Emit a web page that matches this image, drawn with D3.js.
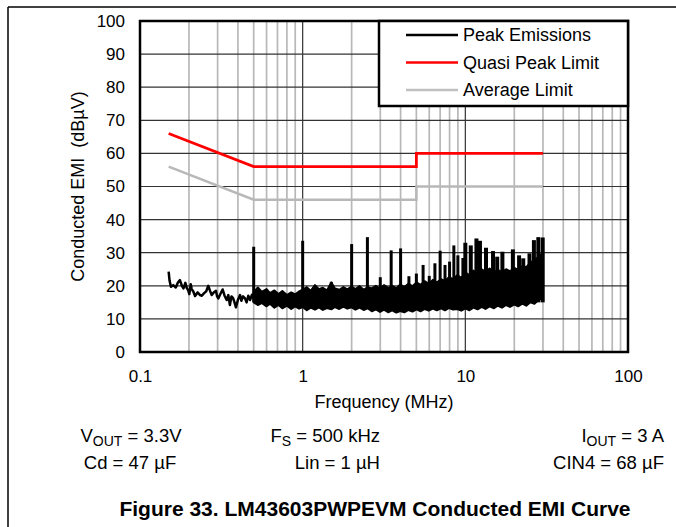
<!DOCTYPE html>
<html>
<head>
<meta charset="utf-8">
<script src="https://cdn.jsdelivr.net/npm/d3@7"></script>
<style>
    body { margin: 0; background: #fff; }
    svg { display: block; font-family: "Liberation Sans", Arial, Helvetica, sans-serif; }
</style>
</head>
<body>
<svg id="chart-emi" width="676" height="527"></svg>
<script>
// CONDUCTED EMI — log frequency plot
(function() {
    const FREQ_TICKS = [0.1, 1, 10, 100];
    const EMI_TICKS  = [0, 10, 20, 30, 40, 50, 60, 70, 80, 90, 100];

    // CISPR limits (MHz, dBuV)
    const qpFreq   = [0.15, 0.5, 5, 5, 30];
    const qpLimit  = [66, 56, 56, 60, 60];
    const avgFreq  = [0.15, 0.5, 5, 5, 30];
    const avgLimit = [56, 46, 46, 50, 50];

    // peak scan below the switching frequency, a single trace
    const lowFreq = [0.150,0.152,0.155,0.160,0.166,0.171,0.176,0.181,0.185,0.190,0.194,0.198,0.201,0.205,0.208,0.213,
                     0.218,0.226,0.234,0.240,0.247,0.255,0.263,0.270,0.276,0.284,0.293,0.298,0.303,0.312,0.322,0.331,
                     0.341,0.349,0.357,0.365,0.374,0.381,0.389,0.400,0.412,0.420,0.430,0.442,0.452,0.463,0.475,0.488,0.497];
    const lowEmi  = [24.3,21.5,19.7,20.2,19.5,21.0,21.7,20.0,19.2,20.9,19.3,18.6,17.5,20.5,19.0,18.2,
                     16.9,18.0,17.2,17.0,17.7,18.3,20.0,18.4,17.2,18.0,18.5,16.8,16.2,17.5,18.9,17.0,
                     15.7,17.2,14.2,16.8,16.2,15.0,13.5,15.8,17.2,15.5,16.8,16.2,15.0,17.0,15.7,17.3,16.2];

    // dense part of the scan, 0.5 - 30 MHz: lower / upper edge of the trace
    const bandFreq = [0.50,0.53,0.56,0.60,0.63,0.67,0.71,0.75,0.80,0.85,0.90,0.95,1.00,1.06,1.12,1.19,1.26,1.33,
                      1.41,1.50,1.58,1.68,1.78,1.88,2.00,2.11,2.24,2.37,2.51,2.66,2.82,2.99,3.16,3.35,3.55,3.76,
                      3.98,4.22,4.47,4.73,5.01,5.31,5.62,5.96,6.31,6.68,7.08,7.50,7.94,8.41,8.91,9.44,10.0,10.6,
                      11.2,11.9,12.6,13.3,14.1,15.0,15.8,16.8,17.8,18.8,20.0,21.1,22.4,23.7,25.1,26.6,28.2,30.0];
    const bandLow  = [15.0,14.2,14.8,13.8,14.6,13.4,14.2,13.2,14.0,13.0,13.8,13.1,13.6,12.6,13.4,12.8,13.5,12.7,
                      13.3,12.9,13.6,13.0,13.7,13.1,13.5,12.8,13.4,12.7,13.2,12.3,12.9,12.1,12.8,12.0,12.6,11.9,
                      12.4,12.0,12.7,12.2,12.9,12.3,13.0,12.5,13.1,12.6,13.2,12.6,13.3,12.8,13.0,12.5,13.2,12.6,
                      13.4,12.9,13.6,13.0,13.8,13.2,14.0,13.4,14.2,13.6,14.4,13.8,14.6,14.0,15.0,14.6,15.8,16.3];
    const bandHigh = [18.0,19.5,18.2,19.0,17.8,18.6,17.5,18.4,17.2,18.0,17.4,18.3,18.8,19.6,18.5,20.2,19.0,19.4,
                      18.6,21.0,19.2,18.8,19.6,18.9,19.8,19.0,19.9,18.8,19.6,19.2,20.0,19.1,20.2,19.4,20.0,19.3,
                      20.4,19.6,20.6,19.9,21.0,20.3,21.4,20.6,21.8,21.0,22.0,21.5,22.6,22.0,23.2,22.4,24.0,23.2,
                      24.6,23.8,25.0,24.2,25.2,24.0,24.8,24.2,25.0,24.4,25.4,24.8,26.0,25.6,27.0,27.8,28.8,30.0];

    // switching harmonics
    const spikeFreq = [0.5,1.0,1.5,2.0,2.5,3.0,3.5,4.0,4.5,5.0,5.5,6.0,6.5,7.0,7.5,8.0,8.5,9.0,9.66,10.0,
                       10.8,11.7,12.3,13.4,14.8,15.7,16.9,19.6,21.4,22.7,24.8,26.4,28.1,29.9];
    const spikePeak = [31.8,33.6,21.2,32.6,34.7,22.6,30.7,31.3,22.9,23.7,26.3,23.0,26.8,30.6,26.3,27.3,32.2,29.2,28.4,33.0,
                       32.2,34.3,33.6,31.5,30.5,28.8,30.3,31.0,29.2,28.3,29.8,33.8,34.7,34.6];

    const SERIES        = ["Peak Emissions", "Quasi Peak Limit", "Average Limit"];
    const SERIES_COLORS = ["#000000", "#ff0000", "#b8b8b8"];

    const margin = { top: 21, left: 140 };
    const W = 488, H = 331;

    const root = d3.select("#chart-emi");

    // page frame
    root.append("line").attr("x1", 8).attr("x2", 676).attr("y1", 7).attr("y2", 7)
        .attr("stroke", "#000").attr("stroke-width", 1.5);
    root.append("line").attr("x1", 8).attr("x2", 8).attr("y1", 7).attr("y2", 527)
        .attr("stroke", "#000").attr("stroke-width", 1.5);

    const svg = root.append("g").attr("transform", `translate(${margin.left},${margin.top})`);

    const x = d3.scaleLog().domain([0.1, 100]).range([0, W]);
    const y = d3.scaleLinear().domain([0, 100]).range([H, 0]);

    const isDecade = f => Math.abs(Math.log10(f) - Math.round(Math.log10(f))) < 1e-6;
    const minor = x.ticks().filter(f => !isDecade(f));

    svg.append("g").selectAll("line").data(minor).enter().append("line")
        .attr("x1", d => x(d)).attr("x2", d => x(d)).attr("y1", 0).attr("y2", H)
        .attr("stroke", "#b8b8b8").attr("stroke-width", 1.7);
    svg.append("g").selectAll("line").data(EMI_TICKS.slice(1, -1)).enter().append("line")
        .attr("x1", 0).attr("x2", W).attr("y1", d => y(d)).attr("y2", d => y(d))
        .attr("stroke", "#333").attr("stroke-width", 1.2);
    svg.append("g").selectAll("line").data(FREQ_TICKS.slice(1, -1)).enter().append("line")
        .attr("x1", d => x(d)).attr("x2", d => x(d)).attr("y1", 0).attr("y2", H)
        .attr("stroke", "#333").attr("stroke-width", 1.2);

    const line = d3.line().x(d => x(d[0])).y(d => y(d[1]));

    svg.append("path").datum(d3.zip(avgFreq, avgLimit)).attr("d", line)
        .attr("fill", "none").attr("stroke", SERIES_COLORS[2]).attr("stroke-width", 2.5);
    svg.append("path").datum(d3.zip(qpFreq, qpLimit)).attr("d", line)
        .attr("fill", "none").attr("stroke", SERIES_COLORS[1]).attr("stroke-width", 2.8);

    // peak emissions
    svg.append("path").datum(d3.zip(lowFreq, lowEmi)).attr("d", line)
        .attr("fill", "none").attr("stroke", "#000").attr("stroke-width", 2.5).attr("stroke-linejoin", "round");
    const band = d3.area().x(d => x(d[0])).y0(d => y(d[1])).y1(d => y(d[2]));
    svg.append("path").datum(d3.zip(bandFreq, bandLow, bandHigh)).attr("d", band)
        .attr("fill", "#000").attr("stroke", "#000").attr("stroke-width", 2).attr("stroke-linejoin", "round");
    svg.append("g").selectAll("line").data(d3.zip(spikeFreq, spikePeak)).enter().append("line")
        .attr("x1", d => x(d[0])).attr("x2", d => x(d[0]))
        .attr("y1", y(15)).attr("y2", d => y(d[1]))
        .attr("stroke", "#000").attr("stroke-width", d => d[0] >= 10 ? 4 : 3);

    // plot frame
    svg.append("rect").attr("width", W).attr("height", H)
        .attr("fill", "none").attr("stroke", "#000").attr("stroke-width", 2.5);

    // axes
    const yAxis = svg.append("g").call(d3.axisLeft(y).tickValues(EMI_TICKS).tickSize(0).tickPadding(15));
    const xAxis = svg.append("g").attr("transform", `translate(0,${H})`)
        .call(d3.axisBottom(x).tickValues(FREQ_TICKS).tickSize(0).tickPadding(18).tickFormat(d => String(d)));
    [yAxis, xAxis].forEach(a => {
        a.select(".domain").remove();
        a.selectAll("text").style("font-size", "17px").style("fill", "#000")
            .style("font-family", "\"Liberation Sans\", Arial, sans-serif");
    });

    svg.append("text").attr("transform", `translate(${84 - margin.left},${H / 2}) rotate(-90)`)
        .attr("text-anchor", "middle").style("font-size", "18px").style("white-space", "pre")
        .text("Conducted EMI  (dBµV)");
    svg.append("text").attr("x", W / 2).attr("y", 408 - margin.top)
        .attr("text-anchor", "middle").style("font-size", "18px").text("Frequency (MHz)");

    // legend
    const lg = svg.append("g").attr("transform", `translate(${379 - margin.left},0)`);
    lg.append("rect").attr("width", W - (379 - margin.left)).attr("height", 85)
        .attr("fill", "#fff").attr("stroke", "#000").attr("stroke-width", 2.5);
    SERIES.forEach((name, i) => {
        const ly = 14 + i * 27.5;
        lg.append("line").attr("x1", 27).attr("x2", 79).attr("y1", ly).attr("y2", ly)
            .attr("stroke", i === 2 ? "#c0c0c0" : SERIES_COLORS[i]).attr("stroke-width", 2.5);
        lg.append("text").attr("x", 84).attr("y", ly).attr("dy", "0.36em")
            .style("font-size", "18px").text(name);
    });

    // test conditions: [text, isSubscript]
    const cond = root.append("g").style("font-size", "18.5px");
    const addCond = (tx, ty, anchor, parts) => {
        const t = cond.append("text").attr("x", tx).attr("y", ty).attr("text-anchor", anchor);
        let shifted = 0;
        parts.forEach(([s, sub]) => {
            const want = sub ? 4 : 0;
            t.append("tspan").attr("dy", want - shifted).style("font-size", sub ? "14px" : null).text(s);
            shifted = want;
        });
    };
    addCond(131, 442, "middle", [["V"], ["OUT", true], [" = 3.3V"]]);
    addCond(380, 442, "end",    [["F"], ["S", true], [" = 500 kHz"]]);
    addCond(664, 442, "end",    [["I"], ["OUT", true], [" = 3 A"]]);
    addCond(130, 469, "middle", [["Cd = 47 µF"]]);
    addCond(380, 469, "end",    [["Lin = 1 µH"]]);
    addCond(664, 469, "end",    [["CIN4 = 68 µF"]]);

    root.append("text").attr("x", 375).attr("y", 516).attr("text-anchor", "middle")
        .style("font-size", "21px").style("font-weight", "bold")
        .text("Figure 33. LM43603PWPEVM Conducted EMI Curve");
})();
</script>
</body>
</html>
